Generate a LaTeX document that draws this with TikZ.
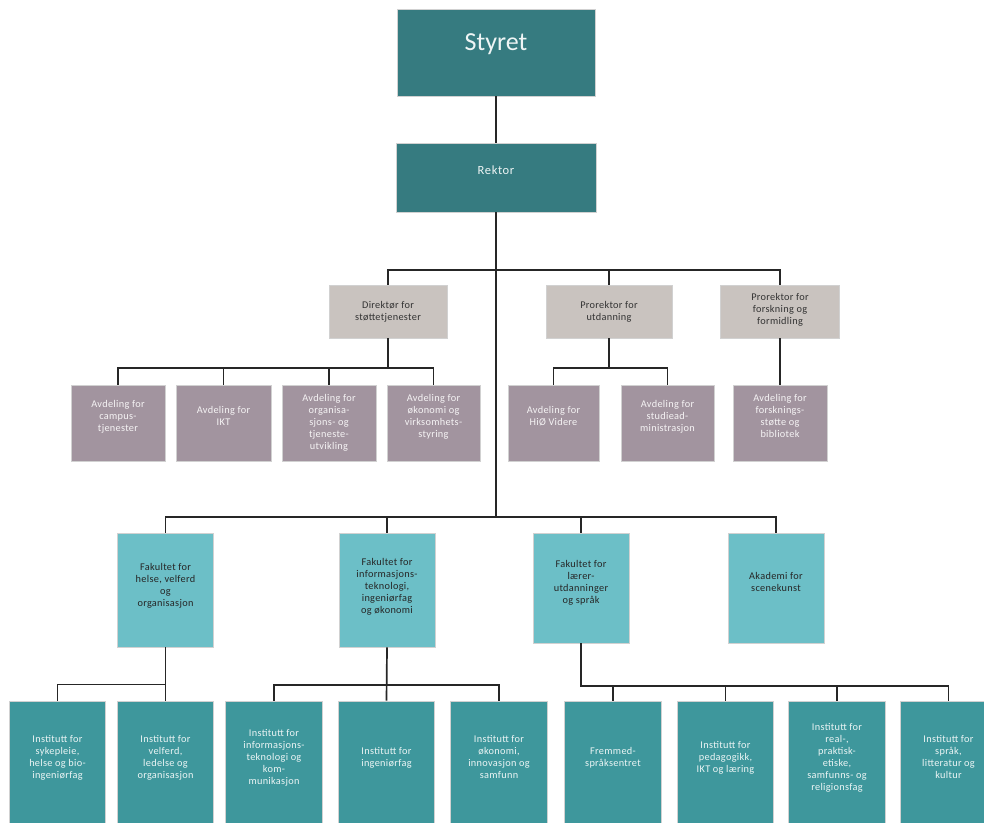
\documentclass[tikz,border=0pt]{standalone}
\usepackage{fontspec}
\setmainfont{Carlito}
\definecolor{cTop}{HTML}{367B80}
\definecolor{cDir}{HTML}{C9C3BF}
\definecolor{cDep}{HTML}{A2949F}
\definecolor{cFak}{HTML}{6CBFC7}
\definecolor{cIns}{HTML}{3E979C}
\definecolor{cLine}{HTML}{262626}
\tikzset{
  box/.style={draw=white!82!black, line width=0.6pt, inner sep=2pt, align=center,
    font=\fontsize{10.3}{12}\selectfont\addfontfeature{LetterSpace=3}},
  topbox/.style={box, fill=cTop, text=white!92!cTop},
  dirbox/.style={box, fill=cDir, text=black!80},
  depbox/.style={box, fill=cDep, text=white!90!cDep, minimum height=76pt, text depth=15pt},
  fakbox/.style={box, fill=cFak, text=black!85, minimum width=96pt},
  insbox/.style={box, fill=cIns, text=white!90!cIns, minimum width=96.5pt, minimum height=125pt, text depth=13pt},
  conn/.style={draw=cLine, line width=1.7pt},
}
\begin{document}
\begin{tikzpicture}[x=1pt,y=-1pt]
\useasboundingbox (0,0) rectangle (984,822);
% top
\node[topbox, minimum width=198pt, minimum height=87pt, font=\fontsize{26}{30}\selectfont, text depth=21pt] (styret) at (496,52.5) {Styret};
\node[topbox, minimum width=200pt, minimum height=69pt, font=\fontsize{12.5}{15}\selectfont\addfontfeature{LetterSpace=5}, text depth=14pt] (rektor) at (496,177.5) {Rektor};
% leaders
\node[dirbox, minimum width=118pt, minimum height=53pt] (dir) at (388,311.5) {Direktør for\\støttetjenester};
\node[dirbox, minimum width=126pt, minimum height=53pt] (pu) at (609,311.5) {Prorektor for\\utdanning};
\node[dirbox, minimum width=119pt, minimum height=53pt, text depth=6pt] (pf) at (780,311.5) {Prorektor for\\forskning og\\formidling};
% departments
\node[depbox, minimum width=94pt] (campus) at (118,423) {Avdeling for\\campus-\\tjenester};
\node[depbox, minimum width=95pt] (ikt) at (223.5,423) {Avdeling for\\IKT};
\node[depbox, minimum width=94pt, text depth=2pt] (org) at (329,423) {Avdeling for\\organisa-\\sjons- og\\tjeneste-\\utvikling};
\node[depbox, minimum width=93pt] (oko) at (433.5,423) {Avdeling for\\økonomi og\\virksomhets-\\styring};
\node[depbox, minimum width=91pt] (hio) at (553.5,423) {Avdeling for\\HiØ Videre};
\node[depbox, minimum width=93pt] (stud) at (667.5,423) {Avdeling for\\studiead-\\ministrasjon};
\node[depbox, minimum width=94pt] (fbib) at (780,423) {Avdeling for\\forsknings-\\støtte og\\bibliotek};
% faculties
\node[fakbox, minimum height=114pt, text depth=10pt] (helse) at (165.5,590) {Fakultet for\\helse, velferd\\og\\organisasjon};
\node[fakbox, minimum height=114pt, text depth=8pt] (iktf) at (387,590) {Fakultet for\\informasjons-\\teknologi,\\ingeniørfag\\og økonomi};
\node[fakbox, minimum height=110pt, text depth=12pt] (laerer) at (581,588) {Fakultet for\\lærer-\\utdanninger\\og språk};
\node[fakbox, minimum height=110pt, text depth=12pt] (akademi) at (776,588) {Akademi for\\scenekunst};
% institutes
\node[insbox] (syk) at (57.5,763.5) {Institutt for\\sykepleie,\\helse og bio-\\ingeniørfag};
\node[insbox] (velf) at (165.5,763.5) {Institutt for\\velferd,\\ledelse og\\organisasjon};
\node[insbox] (infokom) at (274,763.5) {Institutt for\\informasjons-\\teknologi og\\kom-\\munikasjon};
\node[insbox] (ing) at (386.5,763.5) {Institutt for\\ingeniørfag};
\node[insbox] (okon) at (499,763.5) {Institutt for\\økonomi,\\innovasjon og\\samfunn};
\node[insbox] (fremmed) at (613,763.5) {Fremmed-\\språksentret};
\node[insbox] (ped) at (725.5,763.5) {Institutt for\\pedagogikk,\\IKT og læring};
\node[insbox] (real) at (837,763.5) {Institutt for\\real-,\\praktisk-\\etiske,\\samfunns- og\\religionsfag};
\node[insbox] (sprak) at (948.5,763.5) {Institutt for\\språk,\\litteratur og\\kultur};
% bus coordinates
\coordinate (fbus) at (496,517);
\coordinate (hbus) at (165.5,684.5);
% connectors
\draw[conn] (styret.south) -- (rektor.north);
\draw[conn] (rektor.south) -- (fbus);
\draw[conn] (dir.north) -- ++(0,-15) -| (pf.north);
\draw[conn] (pu.north) -- ++(0,-15);
\draw[conn] (dir.south) -- ++(0,30);
\draw[conn] (campus.north) -- ++(0,-17) -| (oko.north);
\draw[conn] (ikt.north) -- ++(0,-17);
\draw[conn] (org.north) -- ++(0,-17);
\draw[conn] (pu.south) -- ++(0,30);
\draw[conn] (hio.north) -- ++(0,-17) -| (stud.north);
\draw[conn] (pf.south) -- (fbib.north);
\draw[conn] (helse.north) -- ++(0,-16) -| (akademi.north);
\draw[conn] (iktf.north) -- ++(0,-16);
\draw[conn] (laerer.north) -- ++(0,-16);
\draw[conn] (helse.south) -- (velf.north);
\draw[conn] (syk.north) |- (hbus);
\draw[conn] (iktf.south) -- (ing.north);
\draw[conn] (infokom.north) -- ++(0,-16) -| (okon.north);
\draw[conn] (laerer.south) -- ++(0,43) -| (sprak.north);
\draw[conn] (fremmed.north) -- ++(0,-15);
\draw[conn] (ped.north) -- ++(0,-15);
\draw[conn] (real.north) -- ++(0,-15);
\end{tikzpicture}
\end{document}
